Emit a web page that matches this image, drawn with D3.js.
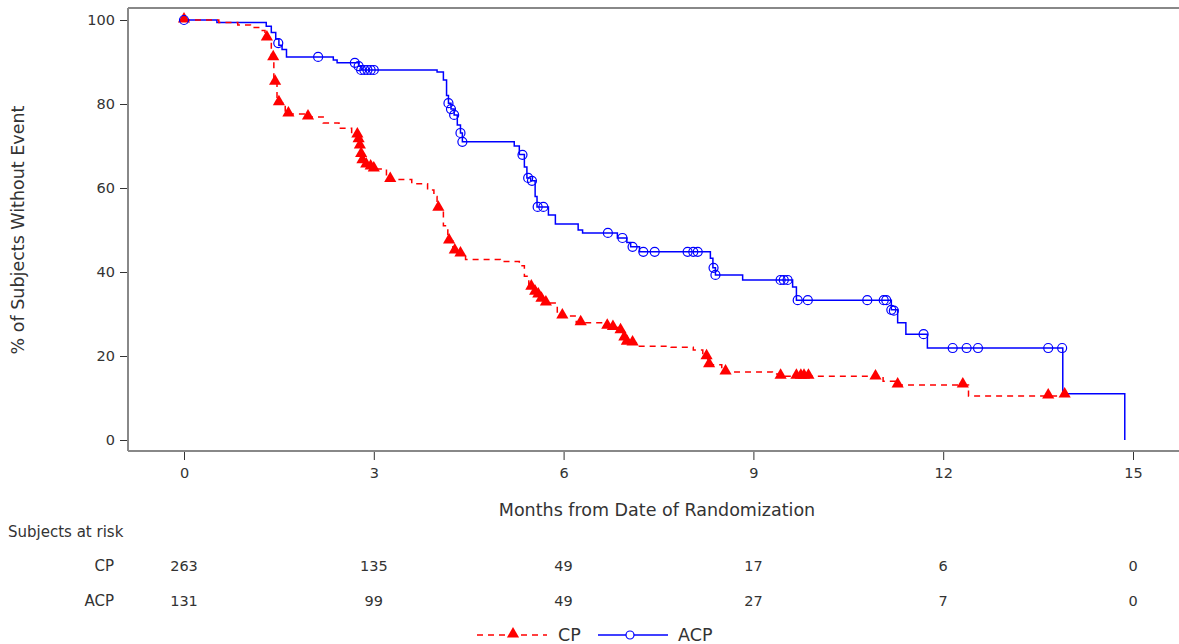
<!DOCTYPE html>
<html lang="en">
<head>
  <meta charset="UTF-8">
  <title>KM plot</title>
  <script src="https://cdnjs.cloudflare.com/ajax/libs/d3/7.8.5/d3.min.js"></script>
  <style>
    body { margin: 0; background: #fff; }
    text { font-family: "DejaVu Sans", sans-serif; fill: #333; }
  </style>
</head>
<body>
  <script>
    const svgWidth = 1179, svgHeight = 644;

    // data (months, % without event)
    const cpTimes = [0, 0.55, 0.85, 1.05, 1.2, 1.28, 1.38, 1.42, 1.47, 1.6, 1.9, 2.2, 2.45, 2.65, 2.76, 2.78, 2.8, 2.82, 2.86, 2.93, 2.98, 3.2, 3.6, 3.85, 3.95, 4.0, 4.1, 4.17, 4.25, 4.35, 4.45, 5.0, 5.3, 5.38, 5.45, 5.53, 5.58, 5.63, 5.7, 5.9, 5.96, 6.2, 6.6, 6.75, 6.88, 6.94, 6.98, 7.05, 7.15, 7.7, 8.05, 8.2, 8.28, 8.5, 9.3, 9.4, 11.05, 11.25, 12.4, 13.95];
    const cpSurv = [100, 99.4, 98.8, 98.2, 97.5, 95.7, 91, 85.2, 80.3, 77.6, 76.9, 75.5, 74.2, 72.6, 71.5, 70, 68, 66.5, 65.5, 65, 64.5, 62, 61, 59.5, 58, 55.2, 51, 47.4, 45, 44.3, 43, 42.5, 41.5, 39, 36.4, 35.2, 34.5, 33.5, 32.6, 30.5, 29.5, 27.9, 27.1, 26.8, 26, 24.3, 23.3, 23.1, 22.3, 22.1, 21.4, 19.8, 17.9, 16.2, 15.7, 15.2, 14.0, 13.1, 10.5, 10.5];
    const cpMarkT = [0, 1.31, 1.41, 1.44, 1.5, 1.65, 1.96, 2.74, 2.76, 2.78, 2.8, 2.82, 2.88, 2.95, 3.0, 3.26, 4.02, 4.19, 4.28, 4.37, 5.49, 5.55, 5.6, 5.65, 5.72, 5.98, 6.27, 6.69, 6.78, 6.9, 6.96, 7.0, 7.09, 8.26, 8.3, 8.56, 9.43, 9.68, 9.75, 9.8, 9.87, 10.93, 11.28, 12.31, 13.66, 13.92];
    const cpMarkS = [100, 95.7, 91, 85.2, 80.3, 77.6, 76.9, 72.6, 71.5, 70, 68, 66.5, 65.5, 65, 64.5, 62, 55.2, 47.4, 45, 44.3, 36.4, 35.2, 34.5, 33.5, 32.6, 29.5, 27.9, 27.1, 26.8, 26, 24.3, 23.3, 23.1, 19.8, 17.9, 16.2, 15.2, 15.2, 15.2, 15.2, 15.2, 15.0, 13.1, 13.1, 10.5, 10.7];

    const acpTimes = [0, 0.52, 1.3, 1.38, 1.45, 1.5, 1.55, 1.62, 2.36, 2.42, 2.76, 2.8, 4.0, 4.1, 4.15, 4.18, 4.22, 4.27, 4.32, 4.37, 4.4, 5.22, 5.3, 5.38, 5.42, 5.48, 5.55, 5.58, 5.76, 5.87, 6.23, 6.3, 6.85, 7.0, 7.06, 7.2, 8.32, 8.36, 8.4, 8.83, 9.62, 9.68, 11.18, 11.28, 11.41, 11.75, 13.89, 14.87];
    const acpSurv = [100, 99.4, 98.5, 97, 95.5, 94, 93, 91.2, 90.5, 89.8, 89, 88.1, 87.6, 85.7, 82, 80.2, 78.8, 77.4, 75, 73.1, 71, 70, 68, 65, 62.4, 61.7, 58, 55.5, 53.6, 51.4, 50, 49.3, 48.1, 47, 46, 44.8, 43.3, 41, 39.3, 38.1, 36.4, 33.3, 31, 27.9, 25.2, 21.9, 11, 0];
    const acpMarkT = [0, 1.49, 2.12, 2.7, 2.76, 2.8, 2.85, 2.9, 2.95, 3.0, 4.18, 4.22, 4.27, 4.37, 4.4, 5.35, 5.44, 5.5, 5.59, 5.68, 6.7, 6.93, 7.09, 7.26, 7.44, 7.96, 8.05, 8.12, 8.37, 8.4, 9.43, 9.48, 9.54, 9.7, 9.86, 10.8, 11.06, 11.1, 11.18, 11.22, 11.69, 12.15, 12.37, 12.55, 13.66, 13.88];
    const acpMarkS = [100, 94.5, 91.2, 89.8, 89, 88.1, 88.1, 88.1, 88.1, 88.1, 80.2, 78.8, 77.4, 73.1, 71, 67.9, 62.4, 61.7, 55.5, 55.5, 49.3, 48.1, 46, 44.8, 44.8, 44.8, 44.8, 44.8, 41, 39.3, 38.1, 38.1, 38.1, 33.3, 33.3, 33.3, 33.3, 33.3, 31, 30.8, 25.2, 21.9, 21.9, 21.9, 21.9, 21.9];

    const xTicks = [0, 3, 6, 9, 12, 15];
    const yTicks = [0, 20, 40, 60, 80, 100];
    const groups = ["CP", "ACP"];
    const cpRisk = [263, 135, 49, 17, 6, 0];
    const acpRisk = [131, 99, 49, 27, 7, 0];

    const svg = d3.select("body").append("svg")
      .attr("width", svgWidth)
      .attr("height", svgHeight);

    const x = d3.scaleLinear().domain([0, 15]).range([184, 1133]);
    const y = d3.scaleLinear().domain([0, 100]).range([440, 20]);
    const plotLeft = 128, plotTop = 8, plotBottom = 451;

    // frame lines
    svg.append("line").attr("x1", plotLeft).attr("x2", svgWidth).attr("y1", plotTop).attr("y2", plotTop)
      .attr("stroke", "#888").attr("stroke-width", 2);

    // x axis
    const xAxis = d3.axisBottom(x).tickValues(xTicks).tickSize(9).tickPadding(8).tickSizeOuter(0);
    const gx = svg.append("g").attr("transform", `translate(0, ${plotBottom})`).call(xAxis);
    gx.select(".domain").remove();
    gx.selectAll("text").attr("font-size", 14.5);
    gx.selectAll(".tick line").attr("stroke", "#333");
    svg.append("line").attr("x1", plotLeft).attr("x2", svgWidth).attr("y1", plotBottom).attr("y2", plotBottom)
      .attr("stroke", "#888").attr("stroke-width", 2);

    // y axis
    const yAxis = d3.axisLeft(y).tickValues(yTicks).tickSize(8).tickPadding(5);
    const gy = svg.append("g").attr("transform", `translate(${plotLeft}, 0)`).call(yAxis);
    gy.select(".domain").remove();
    gy.selectAll("text").attr("font-size", 14.5);
    gy.selectAll(".tick line").attr("stroke", "#333");
    svg.append("line").attr("x1", plotLeft).attr("x2", plotLeft).attr("y1", plotTop).attr("y2", plotBottom)
      .attr("stroke", "#888").attr("stroke-width", 2);

    // titles
    svg.append("text").attr("x", 657).attr("y", 516).attr("text-anchor", "middle")
      .attr("font-size", 17.5).text("Months from Date of Randomization");
    svg.append("text").attr("transform", "translate(24, 230) rotate(-90)").attr("text-anchor", "middle")
      .attr("font-size", 17.5).text("% of Subjects Without Event");

    // curves
    const line = d3.line().curve(d3.curveStepAfter).x(d => x(d[0])).y(d => y(d[1]));
    const cpData = cpTimes.map((t, i) => [t, cpSurv[i]]);
    const acpData = acpTimes.map((t, i) => [t, acpSurv[i]]);

    svg.append("path").datum(acpData).attr("d", line)
      .attr("fill", "none").attr("stroke", "#0000ff").attr("stroke-width", 1.5);
    svg.append("path").datum(cpData).attr("d", line)
      .attr("fill", "none").attr("stroke", "#ff0000").attr("stroke-width", 1.5)
      .attr("stroke-dasharray", "6,5");

    const tri = d3.symbol().type(d3.symbolTriangle).size(64);

    svg.append("g").selectAll("path")
      .data(cpMarkT.map((t, i) => [t, cpMarkS[i]]))
      .enter().append("path")
      .attr("d", tri)
      .attr("transform", d => `translate(${x(d[0])}, ${y(d[1]) - 1})`)
      .attr("fill", "#ff0000");

    svg.append("g").selectAll("circle")
      .data(acpMarkT.map((t, i) => [t, acpMarkS[i]]))
      .enter().append("circle")
      .attr("cx", d => x(d[0])).attr("cy", d => y(d[1])).attr("r", 4.5)
      .attr("fill", "none").attr("stroke", "#0000ff").attr("stroke-width", 1.2);

    // risk table
    svg.append("text").attr("x", 8).attr("y", 537).attr("font-size", 15).text("Subjects at risk");
    [cpRisk, acpRisk].forEach((row, r) => {
      const yy = 571 + r * 35;
      svg.append("text").attr("x", 114).attr("y", yy).attr("text-anchor", "end")
        .attr("font-size", 15).text(groups[r]);
      svg.append("g").selectAll("text").data(row).enter().append("text")
        .attr("x", (d, i) => x(xTicks[i])).attr("y", yy).attr("text-anchor", "middle")
        .attr("font-size", 14.5).text(d => d);
    });

    // legend
    const ly = 635;
    svg.append("line").attr("x1", 477).attr("x2", 547).attr("y1", ly).attr("y2", ly)
      .attr("stroke", "#ff0000").attr("stroke-width", 1.5).attr("stroke-dasharray", "6,5");
    svg.append("path").attr("d", tri).attr("transform", `translate(513, ${ly - 1})`).attr("fill", "#ff0000");
    svg.append("text").attr("x", 558).attr("y", ly + 6).attr("font-size", 17.5).text("CP");
    svg.append("line").attr("x1", 598).attr("x2", 668).attr("y1", ly).attr("y2", ly)
      .attr("stroke", "#0000ff").attr("stroke-width", 1.5);
    svg.append("circle").attr("cx", 630).attr("cy", ly).attr("r", 4)
      .attr("fill", "#fff").attr("stroke", "#0000ff").attr("stroke-width", 1.2);
    svg.append("text").attr("x", 678).attr("y", ly + 6).attr("font-size", 17.5).text("ACP");
  </script>
</body>
</html>
